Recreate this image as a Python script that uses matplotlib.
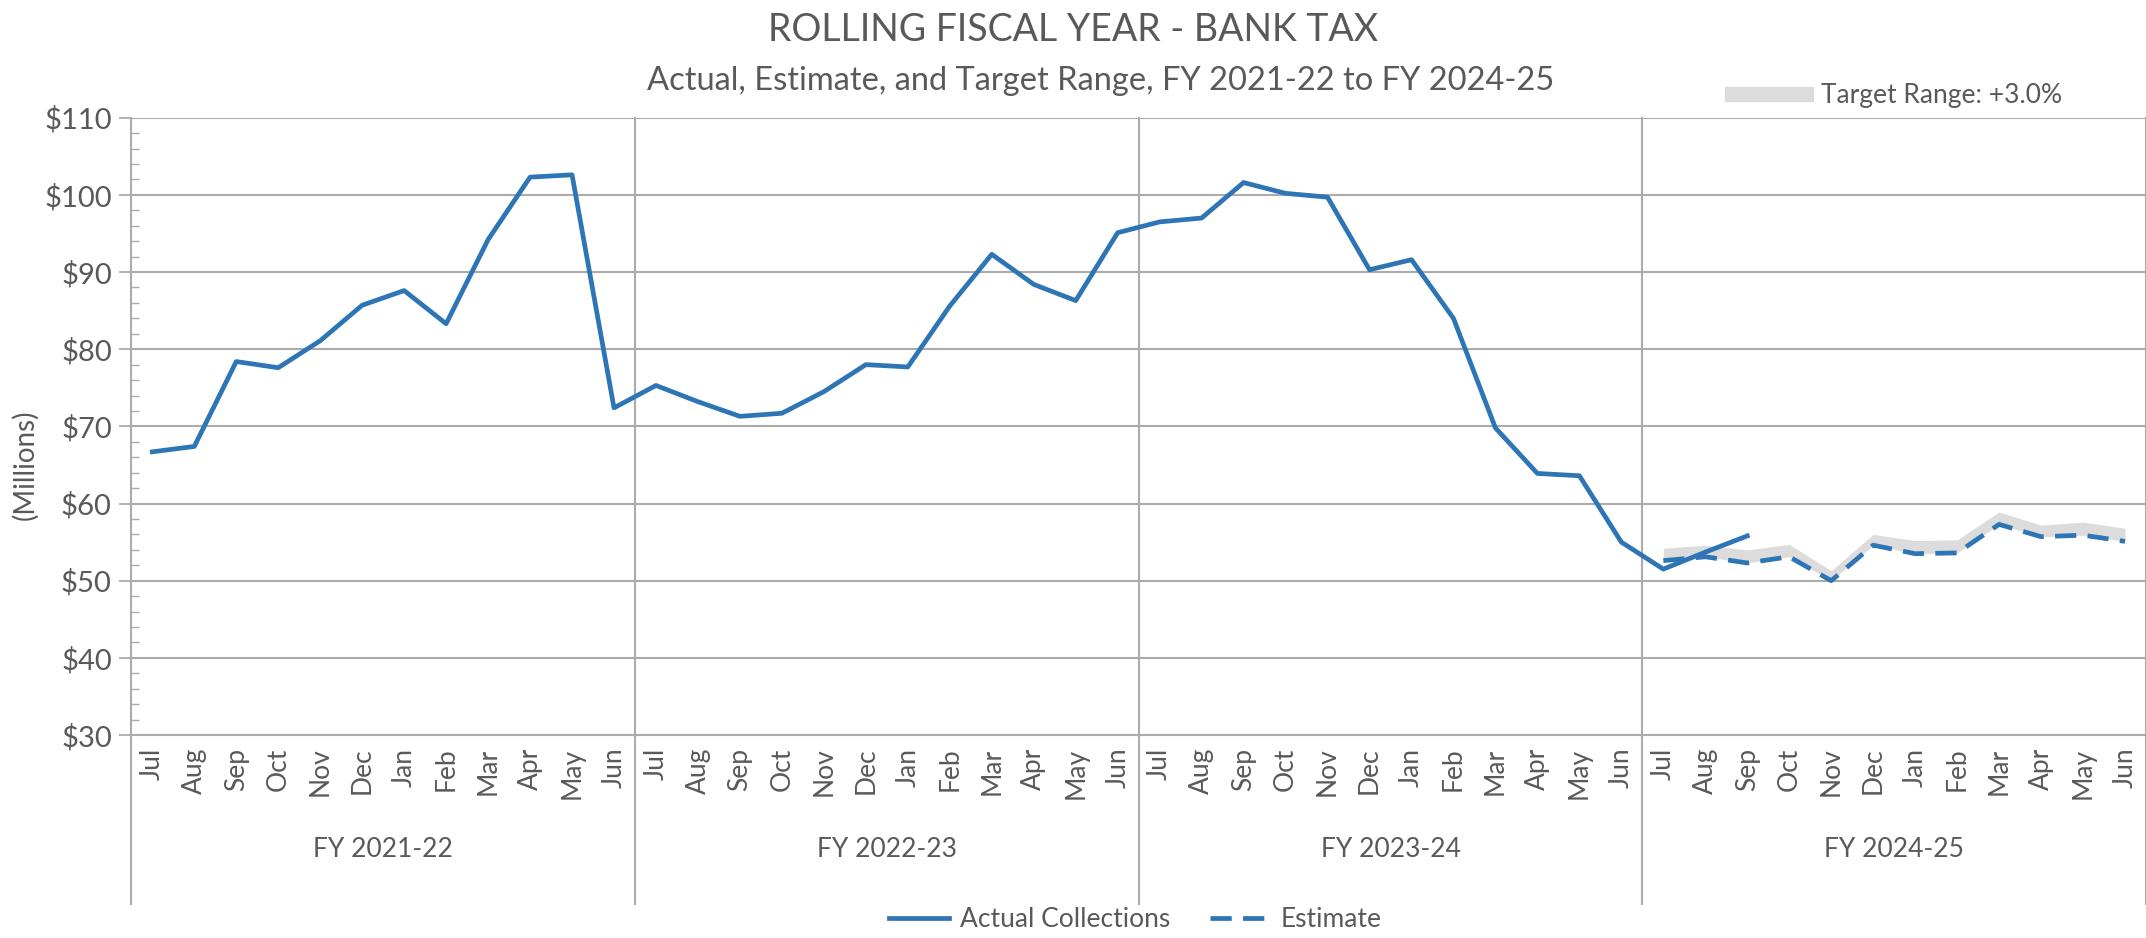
"""Rolling fiscal year chart for bank tax: actual collections, estimate and target range."""
import matplotlib

matplotlib.use("Agg")
import matplotlib.pyplot as plt
from matplotlib.lines import Line2D
from matplotlib.ticker import MultipleLocator, FuncFormatter

plt.rcParams["font.family"] = ["Lato", "DejaVu Sans"]

MONTHS = ["Jul", "Aug", "Sep", "Oct", "Nov", "Dec",
          "Jan", "Feb", "Mar", "Apr", "May", "Jun"]
FISCAL_YEARS = ["FY 2021-22", "FY 2022-23", "FY 2023-24", "FY 2024-25"]

# rolling twelve-month collections, $ millions (Jul 2021 .. Sep 2024)
actual = [
    66.7, 67.4, 78.4, 77.6, 81.1, 85.7, 87.6, 83.3, 94.2, 102.3, 102.6, 72.4,
    75.3, 73.2, 71.3, 71.7, 74.5, 78.0, 77.7, 85.6, 92.3, 88.4, 86.3, 95.1,
    96.5, 97.0, 101.6, 100.2, 99.7, 90.3, 91.6, 84.0, 69.8, 63.9, 63.6, 55.0,
    51.5, 53.7, 55.8,
]
# FY 2024-25 estimate and upper edge of the target range
estimate = [52.6, 53.1, 52.3, 53.1, 50.0, 54.6, 53.5, 53.6, 57.3, 55.7, 55.9, 55.1]
target_high = [54.2, 54.6, 54.0, 54.7, 51.3, 56.0, 55.2, 55.3, 58.9, 57.2, 57.6, 56.8]

BLUE = "#2E75B6"
GREY_BAND = "#DCDCDC"
GRID = "#ABABAB"
TEXT = "#595959"
LW = 3.4
DASH = (4.5, 2.4)


def main() -> None:
    fig = plt.figure(figsize=(21.46, 9.38), dpi=100)
    ax = fig.add_axes([0.0612, 0.2164, 0.9388, 0.6581])

    n = len(MONTHS) * len(FISCAL_YEARS)
    x_actual = list(range(len(actual)))
    x_est = list(range(n - len(estimate), n))

    ax.fill_between(x_est, estimate, target_high, color=GREY_BAND, linewidth=0, zorder=2)
    ax.plot(x_est, estimate, color=BLUE, linewidth=LW, dashes=DASH, zorder=3)
    ax.plot(x_actual, actual, color=BLUE, linewidth=LW, zorder=4)

    ax.set_xlim(-0.5, n - 0.5)
    ax.set_ylim(30, 110)

    # y axis: dollar labels, major grid every $10, small inner ticks every $2
    ax.yaxis.set_major_locator(MultipleLocator(10))
    ax.yaxis.set_minor_locator(MultipleLocator(2))
    ax.yaxis.set_major_formatter(FuncFormatter(lambda v, _: f"${v:.0f}"))
    ax.tick_params(axis="y", which="major", length=9, width=1.3, color=GRID,
                   labelsize=21, labelcolor=TEXT, pad=5)
    ax.tick_params(axis="y", which="minor", direction="in", length=6, width=1.0,
                   color=GRID)
    ax.grid(axis="y", which="major", color=GRID, linewidth=1.5, zorder=0)
    ax.set_axisbelow(True)

    ax.set_xticks(range(n))
    ax.set_xticklabels(MONTHS * len(FISCAL_YEARS), rotation=90)
    ax.tick_params(axis="x", length=0, labelsize=19, labelcolor=TEXT, pad=9)

    for side in ("top", "right", "left"):
        ax.spines[side].set_visible(False)
    ax.spines["bottom"].set_color(GRID)
    ax.spines["bottom"].set_linewidth(1.5)

    # fiscal-year separators run from the top of the plot down through the labels
    trans = ax.get_xaxis_transform()
    for i in range(len(FISCAL_YEARS) + 1):
        xb = i * len(MONTHS) - 0.5
        ax.plot([xb, xb], [1.0, -0.274], transform=trans, color=GRID,
                linewidth=1.5, clip_on=False, zorder=1)
    for i, fy in enumerate(FISCAL_YEARS):
        ax.text(i * len(MONTHS) + 5.5, -0.185, fy, transform=trans,
                ha="center", va="center", fontsize=19, color=TEXT)

    fig.text(0.0117, 0.504, "(Millions)", rotation=90, ha="center", va="center",
             fontsize=20, color=TEXT)
    fig.text(0.5, 0.968, "ROLLING FISCAL YEAR - BANK TAX", ha="center",
             va="center", fontsize=27, color=TEXT)
    fig.text(0.513, 0.914, "Actual, Estimate, and Target Range, FY 2021-22 to FY 2024-25",
             ha="center", va="center", fontsize=23.5, color=TEXT)

    target_handle = Line2D([], [], color=GREY_BAND, linewidth=11)
    fig.legend([target_handle], ["Target Range: +3.0%"], loc="center",
               bbox_to_anchor=(0.884, 0.898), frameon=False, fontsize=19,
               labelcolor=TEXT, handlelength=2.8, handletextpad=0.6)

    actual_handle = Line2D([], [], color=BLUE, linewidth=LW)
    est_handle = Line2D([], [], color=BLUE, linewidth=LW, dashes=DASH)
    fig.legend([actual_handle, est_handle], ["Actual Collections", "Estimate"],
               loc="center", bbox_to_anchor=(0.529, 0.02), ncol=2, frameon=False,
               fontsize=19, labelcolor=TEXT, handlelength=2.3, handletextpad=0.4,
               columnspacing=1.5)

    fig.savefig("out.png", dpi=100)


if __name__ == "__main__":
    main()
